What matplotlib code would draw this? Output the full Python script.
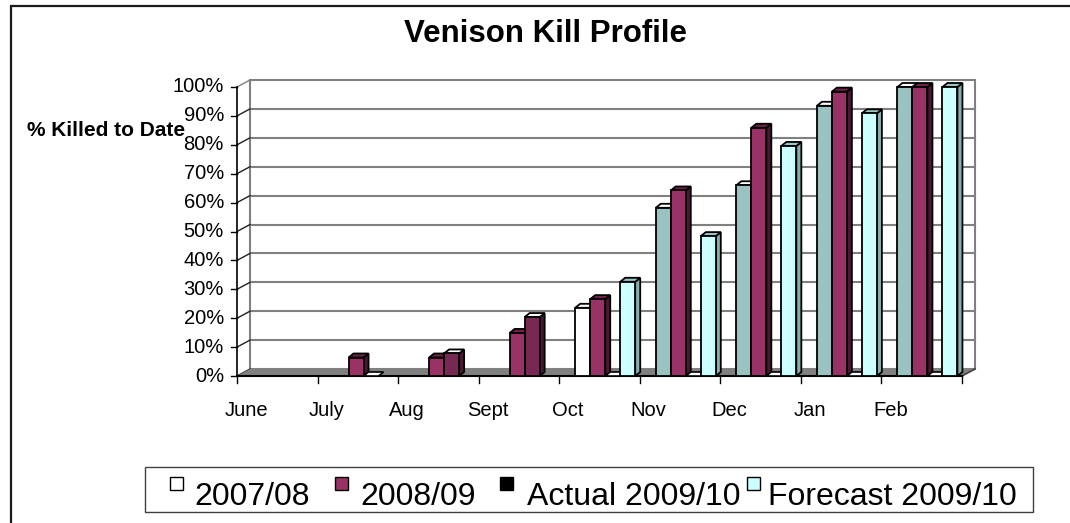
import matplotlib
matplotlib.use('Agg')
import matplotlib.pyplot as plt
from matplotlib.patches import Polygon, Rectangle
import numpy as np

plt.rcParams['font.family'] = ['Liberation Sans', 'DejaVu Sans']

# ---------------- data ----------------
months = ['June', 'July', 'Aug', 'Sept', 'Oct', 'Nov', 'Dec', 'Jan', 'Feb']
series_names = ['2007/08', '2008/09', 'Actual 2009/10', 'Forecast 2009/10']
nan = np.nan
s_0708 = [nan, nan, nan, nan, 23.6, 58.2, 66.0, 93.5, 100]
s_0809 = [nan, 6.4, 6.4, 14.9, 26.6, 64.2, 85.9, 98.4, 100]
s_actual = [nan, 0, 7.8, 20.4, 0, 0, 0, 0, 0]
s_forecast = [nan, nan, nan, nan, 32.6, 48.4, 79.6, 90.9, 100]
y_ticks = [0, 10, 20, 30, 40, 50, 60, 70, 80, 90, 100]

# per-point colour styles (Excel varied colours)
st_0708 = ['white'] * 5 + ['teal'] * 4
st_0809 = ['purple'] * 9
st_actual = ['white', 'white', 'dpurple', 'dpurple'] + ['white'] * 5
st_forecast = ['cyan'] * 9

styles = {  # front, top, side
    'white': ('#ffffff', '#ffffff', '#d0d0d0'),
    'teal': ('#99c2c0', '#ffffff', '#6c908e'),
    'purple': ('#993366', '#6b2447', '#4a1830'),
    'dpurple': ('#772953', '#ffffff', '#4a1830'),
    'cyan': ('#ccffff', '#99c6c6', '#86b0b0'),
}
legend_colors = ['#ffffff', '#993366', '#000000', '#ccffff']

# ---------------- figure ----------------
W, H = 1070, 523
fig = plt.figure(figsize=(W / 100, H / 100), dpi=100)
fig.patch.set_facecolor('white')

x0, x1, yb, yt = 237, 962, 376, 87
ax = fig.add_axes([x0 / W, 1 - yb / H, (x1 - x0) / W, (yb - yt) / H])
ax.set_xlim(0, len(months))
ax.set_ylim(0, 100)
ax.axis('off')

ux = (x1 - x0) / len(months)
uy = (yb - yt) / 100.0


def dxu(p):
    return p / ux


def dyu(p):
    return p / uy


WDx, WDy = dxu(13), dyu(7)
BDx, BDy = dxu(5), dyu(4)
bw = dxu(15)
boff = dxu(16)
n = len(months)
grid_c = '#808080'

# back wall
ax.add_patch(Rectangle((WDx, WDy), n, 100, facecolor='white', edgecolor=grid_c,
                       lw=1.5, zorder=1, clip_on=False))
for v in y_ticks[1:-1]:
    ax.plot([WDx, n + WDx], [v + WDy, v + WDy], color=grid_c, lw=1.5, zorder=1.1,
            clip_on=False)
# side wall diagonals
for v in y_ticks:
    c = grid_c if v == 100 else '#202020'
    ax.plot([0, WDx], [v, v + WDy], color=c, lw=1.0, zorder=1.2, clip_on=False)
# floor
ax.add_patch(Polygon([(0, 0), (n, 0), (n + WDx, WDy), (WDx, WDy)], closed=True,
                     facecolor='#808080', edgecolor='none', zorder=1.3, clip_on=False))
ax.plot([n, n + WDx], [0, WDy], color='#404040', lw=1.2, zorder=1.4, clip_on=False)
# axes lines and ticks
ax.plot([0, 0], [0, 100], color='black', lw=1.2, zorder=1.5, clip_on=False)
ax.plot([0, n], [0, 0], color='black', lw=1.5, zorder=1.5, clip_on=False)
for v in y_ticks:
    ax.plot([-dxu(6), 0], [v, v], color='black', lw=1.0, zorder=1.5, clip_on=False)
    ax.text(-dxu(13), v, f'{v}%', ha='right', va='center', fontsize=14.5, zorder=5)
for i in range(n + 1):
    ax.plot([i, i], [0, -dyu(7)], color='black', lw=1.0, zorder=1.5, clip_on=False)
for i, m in enumerate(months):
    ax.text(i + dxu(9), -dyu(35), m, ha='center', va='center', fontsize=14.5)

# bars
all_vals = [s_0708, s_0809, s_actual, s_forecast]
all_st = [st_0708, st_0809, st_actual, st_forecast]
z = 2.0
for i in range(n):
    for j in range(len(all_vals)):
        v = all_vals[j][i]
        if np.isnan(v):
            continue
        front, top, side = styles[all_st[j][i]]
        x = i + boff + j * bw
        z += 0.01
        if v <= 0:
            ax.add_patch(Polygon([(x, 0), (x + bw, 0), (x + bw + BDx, BDy), (x + BDx, BDy)],
                                 closed=True, facecolor='white', edgecolor='black',
                                 lw=1.2, zorder=z, clip_on=False))
            continue
        ax.add_patch(Polygon([(x + bw, 0), (x + bw + BDx, BDy), (x + bw + BDx, v + BDy),
                              (x + bw, v)], closed=True, facecolor=side,
                             edgecolor='black', lw=1.3, zorder=z, clip_on=False))
        ax.add_patch(Polygon([(x, v), (x + bw, v), (x + bw + BDx, v + BDy), (x + BDx, v + BDy)],
                             closed=True, facecolor=top, edgecolor='black', lw=1.3,
                             zorder=z, clip_on=False))
        ax.bar(x, v, width=bw, align='edge', color=front, edgecolor='black', lw=1.3,
               zorder=z + 0.001, clip_on=False)


def fx(p):
    return p / W


def fy(p):
    return 1 - p / H


# title and axis label
fig.text(fx(545), fy(34), 'Venison Kill Profile', fontsize=22.5, fontweight='bold',
         ha='center', va='center')
fig.text(fx(106), fy(130), '% Killed to Date', fontsize=15, fontweight='bold',
         ha='center', va='center')

# outer chart frame
fig.add_artist(Rectangle((fx(11), -0.1), 1.2, fy(6) + 0.1, transform=fig.transFigure,
                         fill=False, edgecolor='#1a1a1a', lw=1.6))

# legend
fig.add_artist(Rectangle((fx(145), fy(512)), (1033 - 145) / W, 45 / H,
                         transform=fig.transFigure, facecolor='white',
                         edgecolor='#404040', lw=1.0))
marker_x = [170, 335, 500, 747]
text_x = [194, 360, 527, 768]
for name, c, mx, tx in zip(series_names, legend_colors, marker_x, text_x):
    fig.add_artist(Rectangle((fx(mx), fy(490)), 13 / W, 13 / H, transform=fig.transFigure,
                             facecolor=c, edgecolor='black', lw=1.0))
    fig.text(fx(tx), fy(505), name, fontsize=23, ha='left', va='baseline')

fig.savefig('out.png', dpi=100)
